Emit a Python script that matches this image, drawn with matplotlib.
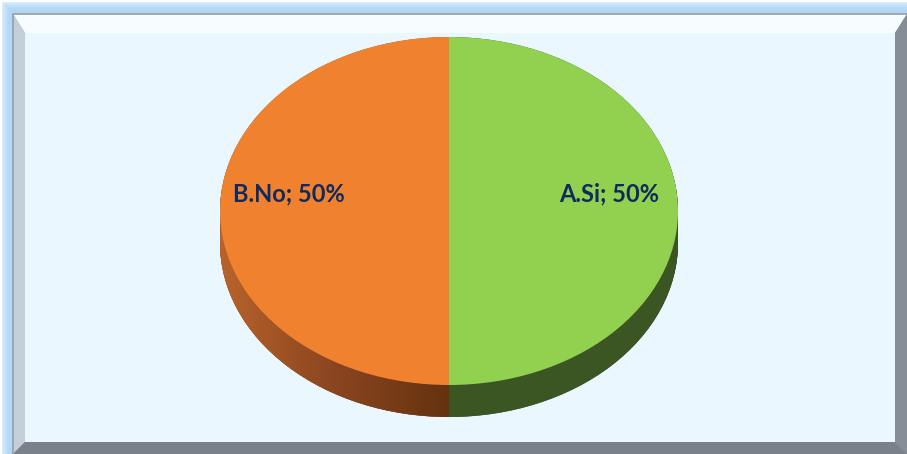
import numpy as np
import matplotlib.pyplot as plt
from matplotlib.patches import Rectangle, Polygon

categories = ["A.Si", "B.No"]
values = [50, 50]
top_colors = ["#92D050", "#F0822F"]
side_colors = ["#3C5623", "#A8592A"]

W, H = 907, 454
fig = plt.figure(figsize=(W / 100, H / 100), dpi=100)
fig.patch.set_facecolor("white")

# frame / background drawn in pixel coordinates
bg = fig.add_axes([0, 0, 1, 1])
bg.set_xlim(0, W)
bg.set_ylim(H, 0)
bg.axis("off")

# outer light-blue glow
for i, a in enumerate(np.linspace(0.15, 0.9, 8)):
    off = 13 - i * 1.6
    bg.add_patch(Rectangle((off, off), W, H, facecolor="#9CCEF7", edgecolor="none", alpha=a * 0.35))
bg.add_patch(Rectangle((13, 14), W, H, facecolor="#9AA3AD", edgecolor="none"))

x0, y0, x1, y1 = 13, 14, 907, 454
bev = 12
# bevel sides
bg.add_patch(Polygon([(x0, y0), (x1, y0), (x1 - bev, y0 + 19), (x0 + bev, y0 + 19)],
                     facecolor="#F7FDFF", edgecolor="none"))
bg.add_patch(Polygon([(x0, y0), (x0 + bev, y0 + 19), (x0 + bev, y1 - bev), (x0, y1)],
                     facecolor="#C3CED9", edgecolor="none"))
bg.add_patch(Polygon([(x1, y0), (x1, y1), (x1 - bev, y1 - bev), (x1 - bev, y0 + 19)],
                     facecolor="#858D97", edgecolor="none"))
bg.add_patch(Polygon([(x0, y1), (x1, y1), (x1 - bev, y1 - bev), (x0 + bev, y1 - bev)],
                     facecolor="#7A818A", edgecolor="none"))
bg.add_patch(Rectangle((x0 + bev, y0 + 19), (x1 - bev) - (x0 + bev), (y1 - bev) - (y0 + 19),
                       facecolor="#EBF7FE", edgecolor="none"))
bg.plot([x0, x0, x1], [y1, y0, y0], color="#9A9EA3", lw=1.2)

# pie axes
ax = fig.add_axes([0, 0, 1, 1])
ax.patch.set_alpha(0)

depth = 0.184
for k in np.linspace(-depth, 0, 40):
    ax.pie(values, colors=side_colors, startangle=90, counterclock=False, center=(0, k),
           wedgeprops=dict(linewidth=0))

# horizontal shading on the orange side wall
low_wedges, _ = ax.pie(values, colors=side_colors, startangle=90, counterclock=False,
                       center=(0, -depth), wedgeprops=dict(linewidth=0))
grad = np.linspace(0, 1, 256).reshape(1, -1)
from matplotlib.colors import LinearSegmentedColormap
cmap = LinearSegmentedColormap.from_list("side", ["#B8632B", "#8A4520", "#65320F"])
im = ax.imshow(grad, extent=[-1, 0, -1.3, 0], cmap=cmap, aspect="auto", zorder=2)
im.set_clip_path(low_wedges[1])

top_wedges, _ = ax.pie(values, colors=top_colors, startangle=90, counterclock=False,
                       wedgeprops=dict(linewidth=0, zorder=3))
for w in top_wedges:
    w.set_zorder(3)

for w, cat, val in zip(top_wedges, categories, values):
    theta = np.deg2rad((w.theta1 + w.theta2) / 2)
    ax.text(0.70 * np.cos(theta), 0.70 * np.sin(theta) + 0.10, f"{cat}; {val}%",
            ha="center", va="center", fontsize=17, fontweight="bold",
            family="Lato", color="#112A5E", zorder=5)

ax.set_aspect("auto")
ax.set_xlim(-449 / 229, (W - 449) / 229)
ax.set_ylim(-(H - 211) / 174, 211 / 174)
ax.axis("off")

fig.savefig("out.png", dpi=100)
